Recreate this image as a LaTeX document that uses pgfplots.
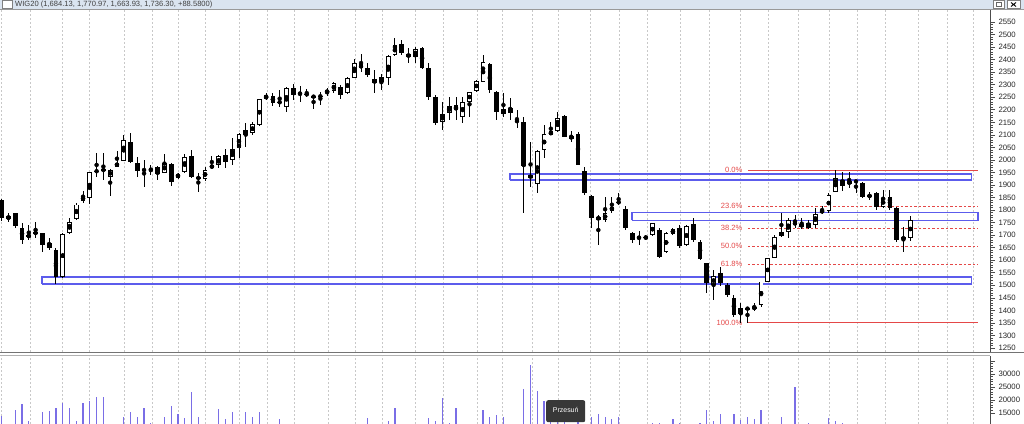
\documentclass[border=0pt]{standalone}
\usepackage{pgfplots}
\pgfplotsset{compat=1.18}
\usepackage{pgfplotstable}
\usepackage{fontspec}
\setmainfont{Liberation Sans}
\definecolor{fibred}{RGB}{228,72,72}
\definecolor{rectblue}{RGB}{92,92,236}
\definecolor{volblue}{RGB}{122,110,230}
\definecolor{gridgray}{RGB}{200,200,200}
\definecolor{barbg}{RGB}{218,228,240}

\pgfplotstableread{
i O H L C V
0 1840 1845 1758 1768 14000
1 1764 1787 1754 1776 8000
2 1787 1790 1730 1737 16200
3 1730 1747 1665 1681 18300
4 1692 1741 1679 1701 11800
5 1713 1754 1688 1704 10600
6 1708 1710 1632 1661 15300
7 1668 1688 1641 1650 15700
8 1641 1650 1505 1532 17100
9 1532 1708 1530 1704 18900
10 1708 1767 1706 1754 17100
11 1764 1830 1762 1822 11800
12 1837 1877 1830 1856 18900
13 1847 1953 1824 1953 19500
14 1957 2029 1931 1953 21000
15 1963 2027 1920 1956 21000
16 1933 1963 1856 1960 8000
17 1973 2037 1973 1989 8000
18 1997 2100 1997 2080 13600
19 2073 2106 1986 1993 15300
20 1986 2013 1933 1957 13600
21 1965 1999 1893 1955 17100
22 1963 1979 1940 1960 11300
23 1973 1977 1920 1944 8000
24 1949 2024 1947 1986 13600
25 1984 1986 1896 1913 17500
26 1929 1948 1925 1944 14500
27 1953 2024 1949 2010 13100
28 2016 2040 1927 1933 22900
29 1929 1947 1873 1927 13600
30 1924 1970 1915 1960 8000
31 1967 2016 1967 1980 10900
32 1980 2020 1967 2016 16600
33 2020 2042 1967 1993 12700
34 1999 2086 1980 2042 15300
35 2046 2106 2006 2103 8000
36 2119 2149 2053 2099 15300
37 2106 2150 2100 2143 13600
38 2139 2245 2135 2242 15300
39 2242 2265 2238 2259 8000
40 2255 2268 2215 2228 8000
41 2232 2279 2210 2228 12700
42 2213 2290 2192 2286 8000
43 2286 2303 2239 2259 9000
44 2264 2295 2232 2266 8000
45 2259 2283 2250 2264 7000
46 2255 2257 2205 2250 8000
47 2256 2270 2219 2252 7000
48 2266 2285 2255 2279 8000
49 2276 2310 2266 2306 9000
50 2292 2299 2243 2259 8000
51 2266 2330 2262 2328 9000
52 2326 2402 2326 2385 8000
53 2381 2421 2352 2365 9000
54 2368 2385 2332 2339 13100
55 2322 2359 2266 2306 8000
56 2312 2341 2279 2332 8000
57 2326 2420 2300 2416 11800
58 2418 2485 2416 2458 17100
59 2461 2478 2418 2425 8000
60 2421 2448 2385 2412 10900
61 2412 2450 2385 2442 8000
62 2448 2451 2361 2365 8000
63 2365 2385 2239 2252 13100
64 2252 2260 2140 2146 11800
65 2150 2232 2119 2183 20600
66 2186 2252 2159 2216 11300
67 2219 2252 2159 2199 17100
68 2172 2252 2146 2232 8000
69 2232 2272 2172 2270 8000
70 2275 2320 2270 2315 8000
71 2312 2418 2311 2389 16200
72 2381 2385 2266 2279 13600
73 2272 2275 2159 2190 14100
74 2203 2266 2172 2182 13600
75 2186 2248 2159 2206 8000
76 2159 2199 2126 2150 10900
77 2153 2172 1787 1977 24200
78 1940 2071 1893 1927 33600
79 1903 2040 1867 2036 23300
80 2040 2139 2006 2102 19800
81 2099 2150 2099 2115 15000
82 2115 2190 2113 2166 12000
83 2176 2180 2090 2093 14000
84 2083 2115 2070 2097 9000
85 2102 2110 1980 1980 12000
86 1956 1973 1860 1867 9000
87 1857 1860 1727 1767 13600
88 1761 1780 1661 1773 14500
89 1761 1853 1754 1787 13600
90 1796 1853 1790 1814 12700
91 1828 1867 1820 1834 13600
92 1805 1815 1720 1727 9000
93 1708 1714 1670 1681 10900
94 1692 1718 1661 1688 8000
95 1690 1700 1680 1692 8000
96 1701 1750 1698 1747 11000
97 1721 1727 1608 1614 11000
98 1634 1712 1630 1708 8000
99 1705 1727 1700 1723 12700
100 1727 1740 1650 1657 11000
101 1661 1740 1655 1737 8000
102 1745 1767 1674 1681 8000
103 1674 1680 1600 1604 11300
104 1588 1590 1468 1508 16200
105 1501 1561 1442 1537 11800
106 1548 1575 1498 1508 14800
107 1501 1510 1455 1461 8000
108 1448 1460 1375 1382 14500
109 1386 1428 1349 1408 12300
110 1408 1412 1351 1406 13600
111 1405 1428 1398 1415 12700
112 1422 1515 1415 1515 16200
113 1515 1610 1512 1608 8000
114 1608 1700 1608 1694 8000
115 1698 1787 1694 1711 13600
116 1714 1770 1690 1761 8000
117 1752 1780 1730 1741 25000
118 1743 1767 1725 1734 8000
119 1730 1760 1725 1747 11300
120 1741 1807 1727 1783 8000
121 1790 1815 1785 1800 8000
122 1796 1867 1790 1860 13100
123 1873 1960 1871 1927 11800
124 1920 1953 1876 1897 11000
125 1903 1953 1887 1916 8000
126 1916 1920 1867 1913 8000
127 1907 1913 1847 1853 8000
128 1860 1873 1840 1853 8000
129 1867 1873 1800 1814 8000
130 1814 1880 1810 1847 8000
131 1853 1880 1800 1807 8000
132 1807 1814 1672 1681 10900
133 1691 1734 1632 1685 8000
134 1688 1775 1675 1761 8000
}\candles

\pgfplotsset{
  chartbase/.style={
    scale only axis, width=990bp,
    xmin=-0.25, xmax=145.77,
    axis y line*=right, axis x line*=bottom,
    x axis line style={draw=none},
    xtick={0,4.17,8.89,12.88,18.04,22.17,26.0,29.99,35.0,39.13,43.11,48.13,52.1,56.1,60.96,65.1,70.1,73.9,78.2,82.05,86.8,91.05,95.2,100.04,104.3,108.9,113.0,117.45,122.0,126.15,130.3,135.2,139.4,143.3},
    xticklabels={}, xtick style={draw=none},
    xmajorgrids,
    major grid style={gridgray, dash pattern=on 2bp off 2bp, line width=0.6bp},
    tick align=outside, major tick length=5bp, minor tick length=2.5bp,
    y axis line style={black!70, line width=0.8bp},
    ytick style={black!70, line width=0.6bp},
    minor y tick num=4,
    yticklabel style={font=\fontsize{7.8}{8}\selectfont, text=black!85},
    /pgf/number format/assume math mode=true,
    /pgf/number format/set thousands separator={},
    scaled y ticks=false,
  }
}

\begin{document}
\begin{tikzpicture}
% title bar
\fill[barbg] (0bp,0bp) rectangle (1024bp,-9bp);
\draw[black!40, line width=0.6bp] (0bp,-9.5bp) -- (1024bp,-9.5bp);
\draw[black!50, fill=white, line width=0.5bp] (2bp,-0.5bp) rectangle (12bp,-8.5bp);
\node[anchor=west, font=\fontsize{7.6}{8}\selectfont, text=black!75, inner sep=0] at (15bp,-4.2bp) {WIG20 (1,684.13, 1,770.97, 1,663.93, 1,736.30, +88.5800)};
\draw[black!50, fill=white, line width=0.5bp] (993bp,-0.5bp) rectangle (1004bp,-8.5bp);
\draw[black!50, fill=white, line width=0.5bp] (1007bp,-0.5bp) rectangle (1020bp,-8.5bp);
\draw[black!60, line width=0.5bp] (996bp,-2.5bp) rectangle (1001bp,-6.5bp);
\draw[black, line width=0.9bp] (1011bp,-2.5bp) -- (1016bp,-6.5bp) (1011bp,-6.5bp) -- (1016bp,-2.5bp);

\begin{axis}[chartbase, at={(0bp,-10bp)}, anchor=north west, height=342bp,
  ymin=1234, ymax=2598, ytick={1250,1300,...,2550}]
% horizontal zones
\addplot[draw=rectblue, line width=1.15bp] coordinates {(5.94,1505) (143.1,1505) (143.1,1533) (5.94,1533) (5.94,1505)};
\addplot[draw=rectblue, line width=1.15bp] coordinates {(74.97,1920) (143.1,1920) (143.1,1944) (74.97,1944) (74.97,1920)};
\addplot[draw=rectblue, line width=1.15bp] coordinates {(92.96,1760) (144.0,1760) (144.0,1792) (92.96,1792) (92.96,1760)};
% fibonacci levels
\addplot[draw=fibred, line width=0.9bp] coordinates {(110.07,1960) (144.0,1960)};
\addplot[draw=fibred, line width=0.9bp] coordinates {(110.07,1350) (144.0,1350)};
\addplot[draw=fibred, line width=0.8bp, dash pattern=on 2.5bp off 2bp] coordinates {(110.07,1816) (144.0,1816)};
\addplot[draw=fibred, line width=0.8bp, dash pattern=on 2.5bp off 2bp] coordinates {(110.07,1727) (144.0,1727)};
\addplot[draw=fibred, line width=0.8bp, dash pattern=on 2.5bp off 2bp] coordinates {(110.07,1655) (144.0,1655)};
\addplot[draw=fibred, line width=0.8bp, dash pattern=on 2.5bp off 2bp] coordinates {(110.07,1583) (144.0,1583)};
\begin{scope}[every node/.style={anchor=east, text=fibred, font=\fontsize{7.6}{8}\selectfont, inner sep=0.5bp}]
\node at (axis cs:109.35,1962) {0.0\%};
\node at (axis cs:109.35,1818) {23.6\%};
\node at (axis cs:109.35,1729) {38.2\%};
\node at (axis cs:109.35,1657) {50.0\%};
\node at (axis cs:109.35,1585) {61.8\%};
\node at (axis cs:109.35,1352) {100.0\%};
\end{scope}
% wicks
\addplot[only marks, mark=none, error bars/.cd, y dir=both, y explicit, error mark=none,
  error bar style={draw=black, solid, line width=0.9bp}]
  table[x=i, y expr={(\thisrow{H}+\thisrow{L})/2}, y error expr={(\thisrow{H}-\thisrow{L})/2}] {\candles};
% bodies (black / outline)
\addplot[only marks, mark=none, error bars/.cd, y dir=both, y explicit, error mark=none,
  error bar style={draw=black, solid, line width=4.7bp}]
  table[x=i, y expr={(\thisrow{O}+\thisrow{C})/2}, y error expr={max(abs(\thisrow{C}-\thisrow{O})/2,2.2)}] {\candles};
% white interiors of rising candles
\addplot[only marks, mark=none, restrict expr to domain={\thisrow{C}-\thisrow{O}}{8:100000},
  error bars/.cd, y dir=both, y explicit, error mark=none,
  error bar style={draw=white, solid, line width=2.9bp}]
  table[x=i, y expr={(\thisrow{O}+\thisrow{C})/2}, y error expr={abs(\thisrow{C}-\thisrow{O})/2-3.6}] {\candles};
\end{axis}

\draw[black!55, line width=1.4bp] (0bp,-352.5bp) -- (1024bp,-352.5bp);
\draw[black!30, line width=0.6bp] (0bp,-355.5bp) -- (990bp,-355.5bp);

\begin{axis}[chartbase, at={(0bp,-356bp)}, anchor=north west, height=68bp,
  ymin=10770, ymax=36900, ytick={15000,20000,25000,30000,35000}, yticklabels={15000,20000,25000,30000,}]
\addplot[ycomb, draw=volblue, line width=1.2bp] table[x=i, y=V] {\candles};
\end{axis}

\node[fill=black!78, text=white, rounded corners=2bp, font=\fontsize{7}{8}\selectfont, minimum width=39bp, minimum height=22bp, anchor=north west, inner sep=0] at (546bp,-400bp) {\raisebox{3bp}{Przesuń}};

\pgfresetboundingbox
\path[use as bounding box] (0bp,0bp) rectangle (1024bp,-424bp);
\end{tikzpicture}
\end{document}
